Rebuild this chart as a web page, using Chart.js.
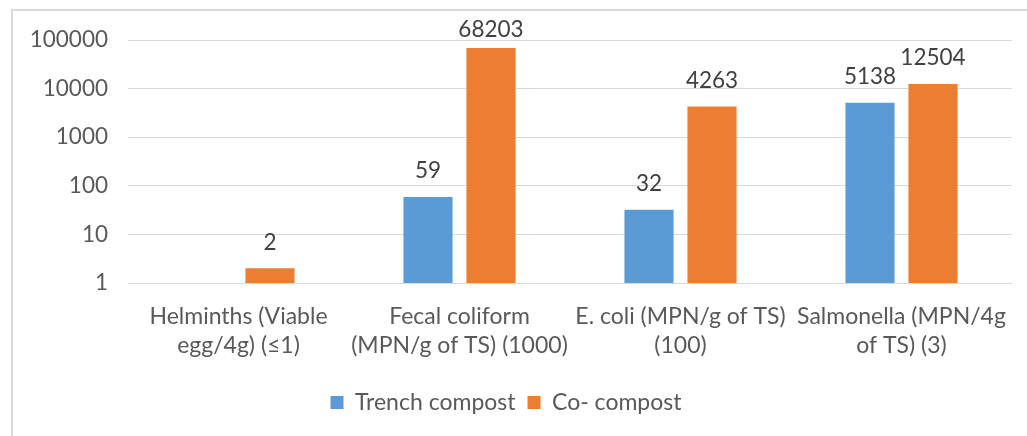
<!DOCTYPE html>
<html>
<head>
<meta charset="utf-8">
<script src="https://cdn.jsdelivr.net/npm/chart.js@4/dist/chart.umd.min.js"></script>
<style>
  body{ margin:0; background:#fff; overflow:hidden; }
  #wrap{ position:relative; width:1027px; height:436px; }
  #frame{ position:absolute; left:11px; top:9px; width:1100px; height:500px; border:2px solid #d9d9d9; box-sizing:border-box; }
  #cv{ position:absolute; left:0; top:0; }
</style>
</head>
<body>
<div id="wrap">
  <div id="frame"></div>
  <canvas id="cv" width="1027" height="436"></canvas>
</div>
<script>
// ---- dados ----
const categories = [
  ['Helminths (Viable', 'egg/4g) (≤1)'],
  ['Fecal coliform', '(MPN/g of TS) (1000)'],
  ['E. coli (MPN/g of TS)', '(100)'],
  ['Salmonella (MPN/4g', 'of TS) (3)']
];
const trenchValues = [null, 59, 32, 5138];
const coValues     = [2, 68203, 4263, 12504];
const yTicks       = [1, 10, 100, 1000, 10000, 100000];

const FONT = 'Lato, Calibri, "Open Sans", sans-serif';

// rótulos de valor acima das barras
const valueLabels = {
  id: 'valueLabels',
  afterDatasetsDraw(chart){
    const ctx = chart.ctx;
    ctx.save();
    ctx.font = '22.5px ' + FONT;
    ctx.fillStyle = '#404040';
    ctx.textAlign = 'center';
    ctx.textBaseline = 'middle';
    chart.data.datasets.forEach((ds, i) => {
      chart.getDatasetMeta(i).data.forEach((bar, j) => {
        const v = ds.data[j];
        if(v == null) return;
        const y = Math.max(bar.y - 26, chart.chartArea.top - 10);
        ctx.fillText(String(v), bar.x, y);
      });
    });
    ctx.restore();
  }
};

new Chart(document.getElementById('cv'), {
  type: 'bar',
  data: {
    labels: categories,
    datasets: [
      { label:'Trench compost', data: trenchValues, backgroundColor:'#5b9bd5' },
      { label:'Co- compost',    data: coValues,     backgroundColor:'#ed7d31' }
    ]
  },
  options: {
    responsive: false, animation: false,
    categoryPercentage: 0.57, barPercentage: 0.78,
    layout: { padding: { top: 40, right: 15, bottom: 12, left: 0 } },
    plugins: {
      tooltip: { enabled:false },
      legend: {
        position:'bottom',
        labels:{ color:'#595959', font:{ size:23, family:FONT }, boxWidth:13, boxHeight:13, padding:12 }
      }
    },
    scales: {
      x: {
        grid:{ display:false, drawTicks:false },
        border:{ display:false },
        ticks:{ color:'#595959', font:{ size:23, family:FONT, lineHeight:1.27 }, maxRotation:0, autoSkip:false, padding:19 },
        afterFit: s => { s.height = 96; }
      },
      y: {
        type:'logarithmic', min:1, max:100000,
        grid:{ color:'#d9d9d9', lineWidth:1, drawTicks:false },
        border:{ display:false },
        afterBuildTicks: s => { s.ticks = yTicks.map(v => ({ value:v })); },
        ticks:{ color:'#595959', font:{ size:22.5, family:FONT }, padding:20, callback: v => String(v) },
        afterFit: s => { s.width = 128; }
      }
    }
  },
  plugins: [valueLabels]
});
</script>
</body>
</html>
